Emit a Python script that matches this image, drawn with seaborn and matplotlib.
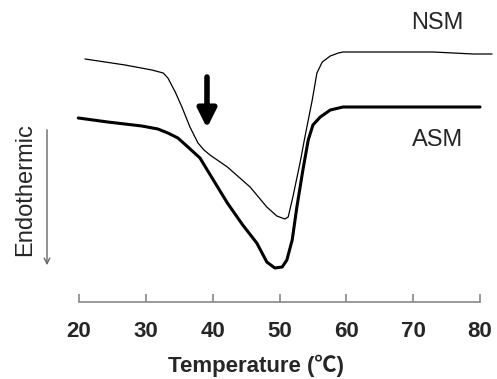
import matplotlib
matplotlib.use("Agg")
import matplotlib.pyplot as plt
import seaborn as sns
import pandas as pd

# Temperature (°C) and heat flow (arbitrary units)
nsm_temp = [20.9, 26.9, 30.9, 32.6, 33.3, 34.4, 35.4, 36.6, 37.8, 38.7, 39.6, 42.2,
            45.6, 48.1, 49.6, 50.8, 51.3, 52.0, 53.1, 53.8, 54.9, 55.6, 56.4, 57.6,
            58.8, 59.5, 73.0, 79.0, 81.8]
nsm_flow = [243, 237, 232, 229, 224, 210, 195, 175, 159, 152, 147, 135,
            115, 95, 86, 83, 85, 105, 140, 165, 202, 229, 240, 246,
            249, 250, 250, 248, 248]

asm_temp = [19.9, 24.3, 29.4, 31.8, 33.3, 34.8, 36.3, 38.1, 40.1, 42.2, 44.5, 46.6,
            48.1, 49.3, 50.4, 51.1, 51.9, 52.6, 53.5, 54.3, 55.0, 56.1, 57.6, 59.5, 80.0]
asm_flow = [184, 180, 176, 173, 169, 164, 155, 144, 122, 99, 77, 59,
            40, 34, 35, 42, 62, 95, 132, 162, 177, 185, 192, 195, 195]

x_ticks = [20, 30, 40, 50, 60, 70, 80]
series_names = ["NSM", "ASM"]

sns.set_style("white")
plt.rcParams["font.family"] = ["Liberation Sans", "Noto Sans CJK SC", "DejaVu Sans"]

fig = plt.figure(figsize=(4.97, 3.79), dpi=100)
ax = fig.add_axes([79 / 497, 1 - 302 / 379, 401 / 497, 272 / 379])

nsm_df = pd.DataFrame({"T": nsm_temp, "H": nsm_flow})
asm_df = pd.DataFrame({"T": asm_temp, "H": asm_flow})
sns.lineplot(data=nsm_df, x="T", y="H", ax=ax, color="black", lw=0.9,
             sort=False, estimator=None, clip_on=False)
sns.lineplot(data=asm_df, x="T", y="H", ax=ax, color="black", lw=2.2,
             sort=False, estimator=None, clip_on=False)

ax.set_xlim(20, 80)
ax.set_ylim(0, 272)
ax.set_xticks(x_ticks)
ax.set_xticklabels([str(t) for t in x_ticks], fontsize=16, fontweight="bold")
ax.set_yticks([])
ax.set_ylabel("")
ax.set_xlabel("Temperature (℃)", fontsize=16, fontweight="bold")
ax.xaxis.set_label_coords((256 - 79) / 401, (302 - 355) / 272)
for s in ["top", "right", "left"]:
    ax.spines[s].set_visible(False)
ax.spines["bottom"].set_color("#888888")
ax.spines["bottom"].set_linewidth(1.2)
ax.tick_params(axis="x", direction="in", length=6, width=1.2, color="#888888",
               pad=14, bottom=True)

ax.text(73.6, 279, series_names[0], fontsize=17, ha="center", va="center")
ax.text(73.6, 162, series_names[1], fontsize=17, ha="center", va="center")

ax.annotate("", xy=(39.15, 302 - 128), xytext=(39.15, 302 - 77),
            arrowprops=dict(arrowstyle="-|>", lw=4, mutation_scale=28,
                            color="black", shrinkA=0, shrinkB=0))

fig.text(25 / 497, 1 - 190 / 379, "Endothermic", rotation=90, fontsize=17,
         ha="center", va="center")
fig.patches.append(matplotlib.patches.FancyArrowPatch(
    (47 / 497, 1 - 127 / 379), (47 / 497, 1 - 268 / 379),
    transform=fig.transFigure, arrowstyle="->", mutation_scale=10,
    color="#666666", lw=1))

fig.savefig("out.png", dpi=100)
